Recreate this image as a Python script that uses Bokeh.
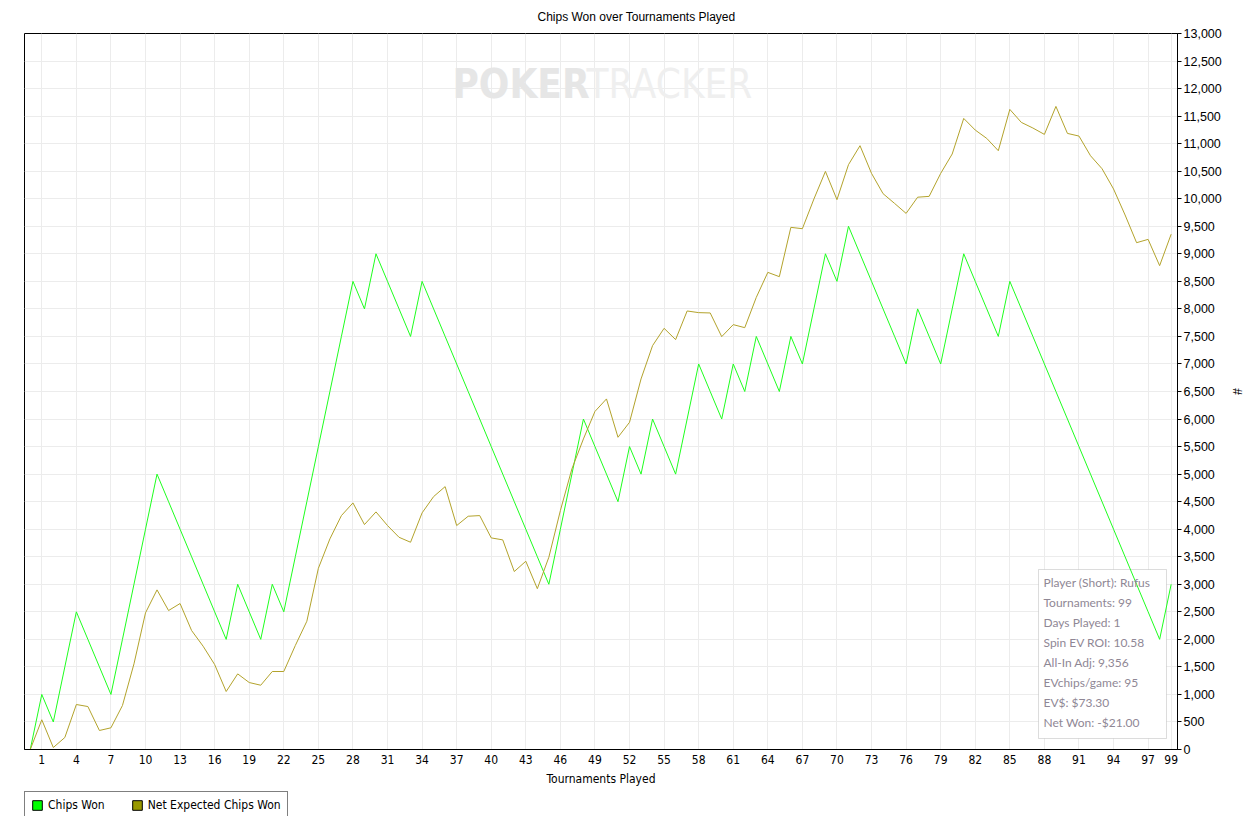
from bokeh.plotting import figure
from bokeh.layouts import column
from bokeh.models import (ColumnDataSource, FixedTicker, NumeralTickFormatter, Legend,
                          LegendItem, Label, BoxAnnotation, Range1d)
from bokeh.embed import file_html
from bokeh.resources import INLINE

# ---------------- data ----------------
tournaments = list(range(0, 100))

chips_won = [0, 1000, 500, 1500, 2500, 2000, 1500, 1000, 2000, 3000,
             4000, 5000, 4500, 4000, 3500, 3000, 2500, 2000, 3000, 2500,
             2000, 3000, 2500, 3500, 4500, 5500, 6500, 7500, 8500, 8000,
             9000, 8500, 8000, 7500, 8500, 8000, 7500, 7000, 6500, 6000,
             5500, 5000, 4500, 4000, 3500, 3000, 4000, 5000, 6000, 5500,
             5000, 4500, 5500, 5000, 6000, 5500, 5000, 6000, 7000, 6500,
             6000, 7000, 6500, 7500, 7000, 6500, 7500, 7000, 8000, 9000,
             8500, 9500, 9000, 8500, 8000, 7500, 7000, 8000, 7500, 7000,
             8000, 9000, 8500, 8000, 7500, 8500, 8000, 7500, 7000, 6500,
             6000, 5500, 5000, 4500, 4000, 3500, 3000, 2500, 2000, 3000]

net_expected = [0, 540, 36, 218, 817, 780, 345, 394, 799, 1555,
                2481, 2898, 2523, 2650, 2160, 1875, 1543, 1053, 1373, 1216,
                1167, 1416, 1416, 1888, 2329, 3290, 3824, 4247, 4477, 4084,
                4314, 4066, 3853, 3763, 4296, 4592, 4773, 4066, 4235, 4247,
                3842, 3806, 3231, 3418, 2920, 3491, 4338, 5095, 5639, 6138,
                6365, 5669, 5941, 6728, 7333, 7647, 7442, 7962, 7932, 7926,
                7496, 7714, 7659, 8209, 8663, 8585, 9480, 9456, 9995, 10496,
                9983, 10618, 10963, 10460, 10092, 9915, 9734, 10028, 10043, 10460,
                10812, 11458, 11247, 11095, 10872, 11622, 11386, 11284, 11168, 11676,
                11186, 11138, 10781, 10545, 10177, 9705, 9202, 9262, 8785, 9356]

x_ticks = [1, 4, 7, 10, 13, 16, 19, 22, 25, 28, 31, 34, 37, 40, 43, 46, 49, 52,
           55, 58, 61, 64, 67, 70, 73, 76, 79, 82, 85, 88, 91, 94, 97, 99]
y_ticks = [0, 500, 1000, 1500, 2000, 2500, 3000, 3500, 4000, 4500, 5000, 5500,
           6000, 6500, 7000, 7500, 8000, 8500, 9000, 9500, 10000, 10500, 11000,
           11500, 12000, 12500, 13000]

series_names = ["Chips Won", "Net Expected Chips Won"]
line_colors = ["#1eff1e", "#b3a32c"]
legend_colors = ["#00ff00", "#999900"]

title_text = "Chips Won over Tournaments Played"
info_lines = ["Player (Short): Rufus", "Tournaments: 99", "Days Played: 1",
              "Spin EV ROI: 10.58", "All-In Adj: 9,356", "EVchips/game: 95",
              "EV$: $73.30", "Net Won: -$21.00"]

NARROW = "DejaVu Sans Condensed, Liberation Sans, sans-serif"
SANS = "Liberation Sans"
NAN = float("nan")

# ---------------- main figure ----------------
src = ColumnDataSource(data=dict(t=tournaments, chips=chips_won, ev=net_expected))

p = figure(frame_width=1153, frame_height=716,
           x_range=Range1d(-0.5, 99.55), y_range=Range1d(0, 13000),
           y_axis_location="right", output_backend="svg", toolbar_location=None,
           min_border_left=24, min_border_top=33, min_border_right=0, min_border_bottom=41,
           background_fill_color="white", border_fill_color="white",
           outline_line_color="black", outline_line_width=1)

p.title.text = title_text
p.title.align = "left"
p.title.offset = 513
p.title.vertical_align = "middle"
p.title.standoff = 17
p.title.text_font = SANS
p.title.text_font_size = "12px"
p.title.text_font_style = "normal"
p.title.text_color = "black"

# x axis
p.xaxis.ticker = FixedTicker(ticks=x_ticks)
p.xaxis.major_tick_out = 0
p.xaxis.major_tick_in = 0
p.xaxis.minor_tick_out = 0
p.xaxis.minor_tick_in = 0
p.xaxis.axis_line_color = "black"
p.xaxis.major_label_text_font = NARROW
p.xaxis.major_label_text_font_size = "12px"
p.xaxis.major_label_text_color = "black"
p.xaxis.major_label_standoff = 5
p.xaxis.axis_label = "Tournaments Played"
p.xaxis.axis_label_text_font = NARROW
p.xaxis.axis_label_text_font_size = "12px"
p.xaxis.axis_label_text_font_style = "normal"
p.xaxis.axis_label_text_color = "black"
p.xaxis.axis_label_standoff = 5

# y axis (right)
p.yaxis.ticker = FixedTicker(ticks=y_ticks)
p.yaxis.formatter = NumeralTickFormatter(format="0,0")
p.yaxis.major_tick_out = 4
p.yaxis.major_tick_in = 0
p.yaxis.minor_tick_out = 0
p.yaxis.minor_tick_in = 0
p.yaxis.axis_line_color = "black"
p.yaxis.major_tick_line_color = "black"
p.yaxis.major_label_text_font = SANS
p.yaxis.major_label_text_font_size = "12.5px"
p.yaxis.major_label_text_color = "black"
p.yaxis.major_label_standoff = 2
p.yaxis.axis_label = "#"
p.yaxis.axis_label_text_font = SANS
p.yaxis.axis_label_text_font_size = "12px"
p.yaxis.axis_label_text_font_style = "normal"
p.yaxis.axis_label_text_color = "black"
p.yaxis.axis_label_standoff = 5

p.grid.grid_line_color = "#ececec"
p.grid.grid_line_width = 1

# watermark
p.add_layout(Label(x=428, y=666, x_units="screen", y_units="screen", text="POKER",
                   text_font=NARROW, text_font_size="40px", text_font_style="bold",
                   text_color="#e6e6e6", text_baseline="middle", text_align="left",
                   level="underlay"))
p.add_layout(Label(x=562, y=666, x_units="screen", y_units="screen", text="TRACKER",
                   text_font=NARROW, text_font_size="40px", text_font_style="normal",
                   text_color="#efefef", text_baseline="middle", text_align="left",
                   level="underlay"))

# info box
p.add_layout(BoxAnnotation(left=1014, right=1142, bottom=11, top=180,
                           left_units="screen", right_units="screen",
                           top_units="screen", bottom_units="screen",
                           fill_color="white", fill_alpha=1.0,
                           line_color="#8a8a8a", line_width=1, level="underlay"))

# lines
r_chips = p.line(x="t", y="chips", source=src, line_color=line_colors[0], line_width=1)
r_ev = p.line(x="t", y="ev", source=src, line_color=line_colors[1], line_width=1)

for i, txt in enumerate(info_lines):
    p.add_layout(Label(x=1019, y=167 - 20 * i, x_units="screen", y_units="screen",
                       text=txt, text_font="Lato", text_font_size="12px",
                       text_color="#8f8795", text_baseline="middle", text_align="left"))

# ---------------- legend strip below the chart ----------------
q = figure(width=700, height=26, output_backend="svg", toolbar_location=None,
           x_axis_type=None, y_axis_type=None,
           x_range=Range1d(0, 1), y_range=Range1d(0, 1),
           min_border_left=24, min_border_top=0, min_border_right=0, min_border_bottom=0,
           background_fill_color="white", border_fill_color="white",
           outline_line_color=None)
q.grid.visible = False

sw_src = ColumnDataSource(data=dict(l=[NAN], r=[NAN], b=[NAN], tp=[NAN]))
sw1 = q.quad(left="l", right="r", bottom="b", top="tp", source=sw_src,
             fill_color=legend_colors[0], line_color="black")
sw2 = q.quad(left="l", right="r", bottom="b", top="tp", source=sw_src,
             fill_color=legend_colors[1], line_color="black")

legend = Legend(items=[LegendItem(label=series_names[0], renderers=[sw1]),
                       LegendItem(label=series_names[1], renderers=[sw2])],
                orientation="horizontal", location=(0, -3),
                border_line_color="black", border_line_width=1,
                background_fill_color="white", background_fill_alpha=1.0,
                padding=6, margin=0, spacing=26,
                glyph_width=12, glyph_height=12, label_standoff=5, label_height=12,
                label_text_font=NARROW, label_text_font_size="12px",
                label_text_color="black")
q.add_layout(legend)

layout = column(p, q, spacing=0)

open("out.html", "w").write(file_html(layout, INLINE))
